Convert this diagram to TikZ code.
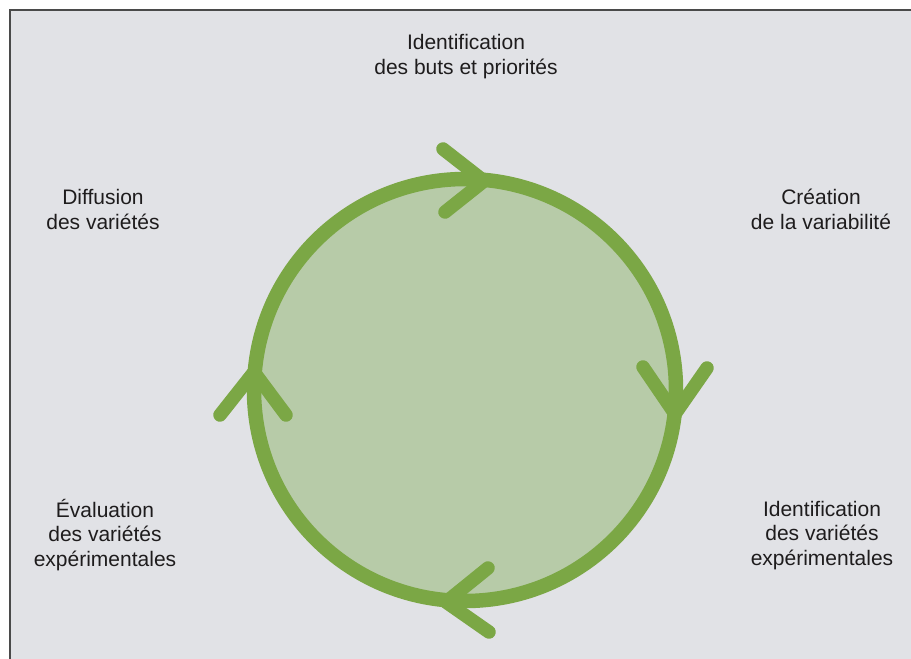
\documentclass[tikz,border=0pt]{standalone}
\usepackage{fontspec}
\setmainfont{Liberation Sans}
\definecolor{bg}{HTML}{E1E2E6}
\definecolor{frame}{HTML}{4A4A4A}
\definecolor{ring}{HTML}{7BA745}
\definecolor{disc}{HTML}{B7CBA8}
\definecolor{txt}{HTML}{1E1C1D}
\tikzset{
  lbl/.style={align=center, anchor=base, inner sep=0pt, text=txt, font=\fontsize{21}{24.5}\selectfont},
  ringline/.style={draw=ring, line width=14.5pt},
  chevron/.style={draw=ring, line width=13.5pt, line cap=round, line join=round}
}
\begin{document}
\begin{tikzpicture}[x=1pt, y=-1pt]
\useasboundingbox (0,0) rectangle (911,659);
\fill[bg] (10,10) rectangle (920,670);
\draw[frame, line width=2pt] (10,670) -- (10,10) -- (920,10);
% cycle
\coordinate (c) at (465,390);
\draw[ringline, fill=disc] (c) circle[radius=211pt];
% arrowheads (clockwise)
\coordinate (t1) at (484,181); \coordinate (t1a) at (443,149); \coordinate (t1b) at (445,212);
\coordinate (t2) at (675,414); \coordinate (t2a) at (643,367); \coordinate (t2b) at (707,368);
\coordinate (t3) at (446,602); \coordinate (t3a) at (488,568); \coordinate (t3b) at (489,632);
\coordinate (t4) at (254,372); \coordinate (t4a) at (220,415); \coordinate (t4b) at (286,415);
\draw[chevron] (t1a) -- (t1) -- (t1b);
\draw[chevron] (t2a) -- (t2) -- (t2b);
\draw[chevron] (t3a) -- (t3) -- (t3b);
\draw[chevron] (t4a) -- (t4) -- (t4b);
% labels (anchor = baseline of last line)
\node[lbl] (n1) at (466,74) {Identification\\des buts et priorités};
\node[lbl] (n2) at (821,229) {Création\\de la variabilité};
\node[lbl] (n3) at (822,565) {Identification\\des variétés\\expérimentales};
\node[lbl] (n4) at (105,566) {Évaluation\\des variétés\\expérimentales};
\node[lbl] (n5) at (103,229) {Diffusion\\des variétés};
\end{tikzpicture}
\end{document}
